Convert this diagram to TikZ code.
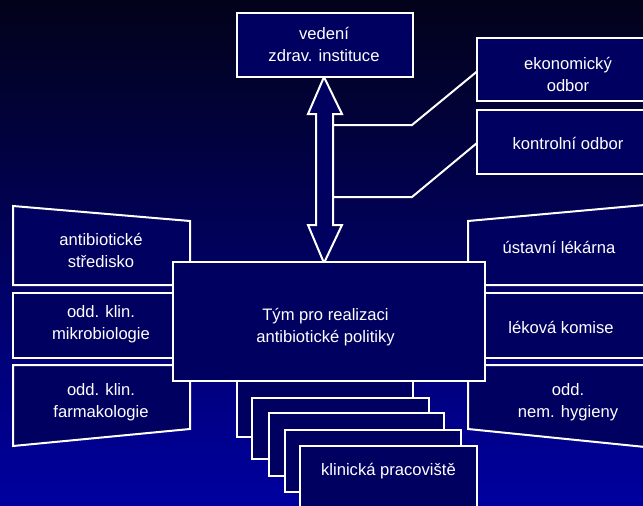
\documentclass[tikz,border=0pt]{standalone}
\usepackage{fontspec}
\setmainfont{Liberation Sans}
\definecolor{bgtop}{RGB}{2,2,26}
\definecolor{bgbot}{RGB}{0,0,160}
\definecolor{boxfill}{RGB}{0,0,96}
\begin{document}
\begin{tikzpicture}[x=1pt,y=-1pt,
  box/.style={draw=white,line width=2pt,fill=boxfill,inner sep=0pt,outer sep=0pt},
  txt/.style={text=white,align=center,inner sep=0pt,font=\fontsize{16.6}{22}\selectfont},
  conn/.style={draw=white,line width=2pt,line join=miter}]
\useasboundingbox (0,0) rectangle (643,506);
\clip (0,0) rectangle (643,506);
\shade[top color=bgtop,bottom color=bgbot] (0,0) rectangle (643,506);
% left side boxes
\draw[box] (13,206) -- (190,221) -- (190,285) -- (13,285) -- cycle;
\node[txt] (abs) at (101,250) {antibiotické\\středisko};
\draw[box] (13,293) rectangle (190,358);
\node[txt] (mik) at (101,324) {odd. klin.\\mikrobiologie};
\draw[box] (13,365) -- (190,365) -- (190,429) -- (13,446) -- cycle;
\node[txt] (far) at (101,402) {odd. klin.\\farmakologie};
% right side boxes
\draw[box] (468,221) -- (660,203.6) -- (660,285) -- (468,285) -- cycle;
\node[txt] (lek) at (559,247) {ústavní lékárna};
\draw[box] (468,293) rectangle (660,358);
\node[txt] (kom) at (561,327) {léková komise};
\draw[box] (468,365) -- (660,365) -- (660,448.5) -- (468,429) -- cycle;
\node[txt] (hyg) at (568,402) {odd.\\nem. hygieny};
% stacked cards
\draw[box] (237,370) rectangle (413,437);
\draw[box] (252,398) rectangle (429,459);
\draw[box] (269,413) rectangle (444,476);
\draw[box] (285,430) rectangle (461,492);
\draw[box] (300,446) rectangle (477,515);
\node[txt] (kli) at (388.5,471) {klinická pracoviště};
% double arrow
\draw[box,line join=miter] (324,77) -- (342,114) -- (333,114) -- (333,225) -- (342,225) -- (324,263)
  -- (308,225) -- (316,225) -- (316,114) -- (308,114) -- cycle;
% central box
\node[box,minimum width=312pt,minimum height=119pt] (tym) at (329,321.5) {};
\node[txt] (tymT) at (325.5,327) {Tým pro realizaci\\antibiotické politiky};
% top boxes
\node[box,minimum width=176pt,minimum height=64pt] (ved) at (325,45) {};
\node[txt] (vedT) at (324,44) {vedení\\zdrav. instituce};
\node[box,minimum width=190pt,minimum height=63pt,anchor=west] (eko) at (477,69.5) {};
\node[txt] (ekoT) at (568,74) {ekonomický\\odbor};
\node[box,minimum width=190pt,minimum height=64pt,anchor=west] (kon) at (477,142) {};
\node[txt] (konT) at (568,143) {kontrolní odbor};
% connectors from arrow shaft
\coordinate (s1) at (333,125);
\coordinate (b1) at (412,125);
\coordinate (s2) at (333,197);
\coordinate (b2) at (412,197);
\draw[conn] (s1) -- (b1) -- ([yshift=-2pt]eko.west);
\draw[conn] (s2) -- (b2) -- ([yshift=-1pt]kon.west);
\end{tikzpicture}
\end{document}
